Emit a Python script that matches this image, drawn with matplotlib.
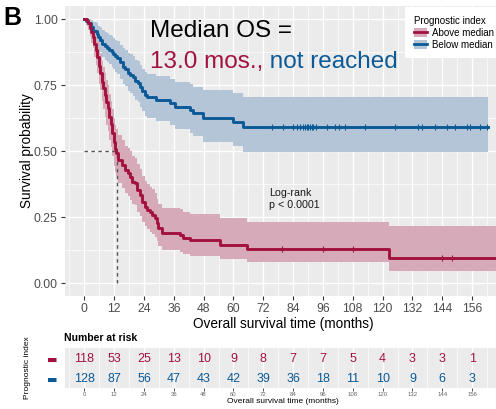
import numpy as np
import matplotlib.pyplot as plt
from matplotlib.patches import Patch
from matplotlib.lines import Line2D

plt.rcParams['font.family'] = ['Liberation Sans', 'DejaVu Sans']

W, H = 496, 409

groups = ['Above median', 'Below median']
line_colors = ['#A3123F', '#0B5A97']
band_colors = ['#D6AAB8', '#B3C5D7']

# Kaplan-Meier steps, above-median prognostic index
above_t = [0, 1.0, 1.6, 2.2, 2.8, 3.4, 4.0, 4.6, 5.2, 5.8, 6.4, 7.0, 7.6, 8.2, 8.8,
           9.4, 10.0, 10.6, 11.2, 11.8, 12.3, 12.9, 13.6, 15.0, 16.3, 17.7, 18.3,
           19.0, 20.4, 21.0, 22.4, 23.0, 24.4, 25.1, 26.4, 27.1, 28.4, 29.1, 29.7,
           31.1, 38.5, 39.8, 42.5, 54.6, 65.3, 122.7]
above_s = [1.0, .992, .983, .966, .949, .932, .907, .881, .856, .822, .797, .763,
           .737, .712, .686, .661, .627, .602, .568, .534, .508, .492, .466, .447,
           .428, .415, .403, .384, .378, .352, .333, .308, .289, .277, .270, .258,
           .245, .226, .207, .190, .182, .172, .163, .145, .128, .095]
above_lo = [1.0, .975, .96, .935, .91, .89, .855, .825, .795, .755, .73, .69, .66,
            .63, .60, .575, .54, .515, .48, .445, .42, .405, .38, .36, .34, .33,
            .315, .30, .295, .27, .255, .23, .215, .205, .195, .185, .175, .16,
            .14, .125, .118, .11, .103, .09, .08, .046]
above_hi = [1.0, 1.0, 1.0, .99, .98, .97, .95, .93, .915, .89, .87, .84, .82, .795,
            .77, .75, .715, .69, .66, .625, .60, .585, .56, .54, .52, .51, .50,
            .48, .475, .45, .43, .405, .385, .375, .365, .355, .34, .32, .30, .285,
            .28, .27, .26, .245, .232, .215]
above_cens = [79.4, 95.9, 108.0, 143.9, 147.8]
above_end = 168

# Kaplan-Meier steps, below-median prognostic index
below_t = [0, 0.8, 1.6, 2.5, 3.6, 4.9, 5.6, 6.3, 7.2, 8.2, 9.0, 10.0, 11.0, 11.6,
           12.5, 13.3, 14.3, 15.5, 16.5, 17.5, 18.3, 19.5, 20.5, 21.5, 22.4, 23.3,
           24.2, 25.0, 29.0, 34.4, 36.5, 42.5, 43.8, 47.8, 59.9, 63.9]
below_s = [1.0, .992, .984, .969, .953, .945, .930, .922, .906, .898, .891, .883,
           .875, .867, .859, .852, .836, .820, .812, .797, .789, .781, .766, .758,
           .742, .727, .711, .703, .693, .680, .668, .655, .643, .624, .611, .592]
below_lo = [1.0, .977, .963, .94, .917, .905, .887, .876, .856, .846, .838, .828,
            .818, .809, .80, .79, .772, .754, .745, .728, .719, .71, .693, .684,
            .667, .65, .633, .624, .613, .598, .585, .57, .556, .535, .52, .497]
below_hi = [1.0, 1.0, 1.0, .998, .99, .985, .975, .968, .958, .952, .946, .94,
            .934, .928, .922, .916, .903, .89, .884, .872, .866, .859, .846, .84,
            .826, .812, .798, .792, .783, .772, .762, .752, .742, .73, .72, .706]
below_cens = [75.4, 80.0, 84.1, 85.4, 86.8, 87.8, 88.8, 89.5, 90.1, 90.8, 91.5,
              92.1, 93.2, 97.5, 100.8, 102.6, 104.9, 112.9, 125.0, 134.4, 135.7,
              141.1, 145.8, 149.1, 153.8, 155.2, 159.2, 162.1]
below_end = 162.3

median_os = 13.0

risk_times = [0, 12, 24, 36, 48, 60, 72, 84, 96, 108, 120, 132, 144, 156]
above_risk = [118, 53, 25, 13, 10, 9, 8, 7, 7, 5, 4, 3, 3, 1]
below_risk = [128, 87, 56, 47, 43, 42, 39, 36, 18, 11, 10, 9, 6, 3]

xlim = (-8, 168)


def draw_band(ax, t, lo, hi, end, band_c):
    tt = np.append(t, end)
    ax.fill_between(tt, np.append(lo, lo[-1]), np.append(hi, hi[-1]), step='post',
                    color=band_c, lw=0, zorder=2)


def draw_curve(ax, t, s, end, cens, line_c):
    tt = np.append(t, end)
    ss = np.append(s, s[-1])
    ax.step(tt, ss, where='post', color=line_c, lw=2.1, zorder=4)
    idx = np.searchsorted(t, cens, side='right') - 1
    ax.plot(cens, np.asarray(s)[idx], ls='none', marker='|', ms=4, mew=0.8,
            color=line_c, zorder=5)


def style_panel(ax):
    ax.set_facecolor('#EBEBEB')
    for sp in ax.spines.values():
        sp.set_visible(False)
    ax.set_xlim(*xlim)
    ax.set_xticks(risk_times)
    ax.set_xticks(np.arange(-6, 170, 12), minor=True)
    ax.grid(which='major', color='white', lw=1.0, zorder=0)
    ax.grid(which='minor', color='white', lw=0.5, zorder=0)
    ax.set_axisbelow(True)


fig = plt.figure(figsize=(W / 100, H / 100), dpi=100)

x0_px, x1_px = 64.5, 501.9
ax = fig.add_axes([x0_px / W, 1 - 296.2 / H, (x1_px - x0_px) / W, 290.4 / H])
style_panel(ax)
ax.set_ylim(-0.05, 1.05)
ax.set_yticks([0, 0.25, 0.5, 0.75, 1.0])
ax.set_yticklabels(['0.00', '0.25', '0.50', '0.75', '1.00'])
ax.set_yticks([0.125, 0.375, 0.625, 0.875], minor=True)
ax.tick_params(which='major', labelsize=8.8, labelcolor='#4D4D4D', color='#333333',
               length=3, width=0.8, pad=2)
ax.tick_params(which='minor', length=0)

draw_band(ax, below_t, below_lo, below_hi, below_end, band_colors[1])
draw_band(ax, above_t, above_lo, above_hi, above_end, band_colors[0])
draw_curve(ax, below_t, below_s, below_end, below_cens, line_colors[1])
draw_curve(ax, above_t, above_s, above_end, above_cens, line_colors[0])

# median survival guide
ax.plot([0, median_os], [0.5, 0.5], ls=(0, (2.5, 2.5)), color='#555555', lw=1, zorder=3)
ax.plot([median_os, median_os], [0, 0.5], ls=(0, (2.5, 2.5)), color='#555555', lw=1,
        zorder=3)

ax.text(74.4, 0.36, 'Log-rank\np < 0.0001', fontsize=7.7, va='top', ha='left',
        color='#1A1A1A', linespacing=1.3)

ax.set_xlabel('Overall survival time (months)', fontsize=9.8, labelpad=1)
ax.set_ylabel('Survival probability', fontsize=9.8)
ax.yaxis.set_label_coords(-0.0697, 0.5)

# headline
fig.text(150 / W, 1 - 37 / H, 'Median OS =', fontsize=17.5, va='baseline', ha='left')
t1 = fig.text(150 / W, 1 - 68 / H, '13.0 mos.,', fontsize=17.5, va='baseline',
              ha='left', color=line_colors[0])
ax.annotate(' not reached', xy=(1, 0), xycoords=t1, va='bottom', ha='left',
            fontsize=17.5, color=line_colors[1])

fig.text(3 / W, 1 - 6 / H, 'B', fontsize=18, fontweight='bold', va='top', ha='left')

handles = [(Patch(facecolor=band_colors[i], edgecolor='none'),
            Line2D([0], [0], color=line_colors[i], lw=2)) for i in range(2)]
leg = fig.legend(handles, groups, title='Prognostic index', loc='upper left',
                 bbox_to_anchor=(405 / W, 1 - 7 / H), fontsize=7, title_fontsize=7,
                 frameon=True, fancybox=False, borderpad=0.9, borderaxespad=0,
                 handlelength=1.4, handleheight=1.0, handletextpad=0.45,
                 labelspacing=0.2, alignment='left')
leg.get_frame().set_facecolor('white')
leg.get_frame().set_edgecolor('none')
leg.get_frame().set_alpha(1)

# number-at-risk table
tab = fig.add_axes([x0_px / W, 1 - 388 / H, (x1_px - x0_px) / W, 40 / H])
style_panel(tab)
tab.set_ylim(0.55, 2.55)
tab.grid(which='both', axis='y', visible=False)
for x, n in zip(risk_times, above_risk):
    tab.text(x, 2, str(n), color=line_colors[0], fontsize=9, ha='center', va='center')
for x, n in zip(risk_times, below_risk):
    tab.text(x, 1, str(n), color=line_colors[1], fontsize=9, ha='center', va='center')
tab.set_yticks([2, 1])
tab.set_yticklabels(['\u25ac', '\u25ac'], family='DejaVu Sans', fontsize=8)
for lbl, c in zip(tab.get_yticklabels(), line_colors):
    lbl.set_color(c)
tab.tick_params(axis='y', length=0, pad=5)
tab.tick_params(axis='x', which='major', labelsize=4.3, labelcolor='#666666',
                color='#333333', length=2, width=0.6, pad=1)
tab.tick_params(which='minor', length=0)
tab.set_xlabel('Overall survival time (months)', fontsize=6, labelpad=0.5)
tab.set_ylabel('Prognostic index', fontsize=6)
tab.yaxis.set_label_coords(-0.0766, 0.5)
fig.text(64 / W, 1 - 338 / H, 'Number at risk', fontsize=7.5, fontweight='bold',
         va='center', ha='left')

fig.savefig('out.png', dpi=100)
